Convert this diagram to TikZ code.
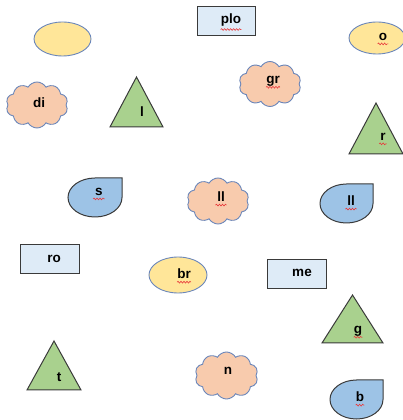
\documentclass[tikz,border=0pt]{standalone}
\usepackage{fontspec}
\setmainfont{Liberation Sans}
\usetikzlibrary{shapes.geometric,shapes.symbols,decorations.pathmorphing}
\definecolor{ellfill}{HTML}{FFE699}
\definecolor{cloudfill}{HTML}{F8CBAD}
\definecolor{trifill}{HTML}{A9D18E}
\definecolor{dropfill}{HTML}{9DC3E6}
\definecolor{rectfill}{HTML}{DEEBF7}
\definecolor{blueedge}{HTML}{6A86BA}
\definecolor{darkedge}{HTML}{3A3A3A}
\definecolor{squig}{HTML}{E8393B}
\tikzset{
  lbl/.style={font=\fontsize{13.5}{14}\selectfont\bfseries, inner sep=0pt, text=black},
  ellbox/.style={ellipse, draw=blueedge, fill=ellfill, line width=0.9pt, inner sep=0pt},
  cloudbox/.style={cloud, cloud puffs=10, cloud puff arc=120, cloud ignores aspect, draw=blueedge, fill=cloudfill, line width=0.9pt, inner sep=0pt},
  rectbox/.style={rectangle, draw=darkedge, fill=rectfill, line width=1pt, inner sep=0pt, minimum height=29pt},
  tribox/.style={draw=darkedge, fill=trifill, line width=1pt, line join=miter},
  dropbox/.style={draw=darkedge, fill=dropfill, line width=1pt},
  wavy/.style={draw=squig, line width=0.6pt, decorate, decoration={snake, segment length=3pt, amplitude=0.9pt}}
}
\newcommand{\mydrop}[4]{% cx cy rx ry
  \draw[dropbox] (#1+#3,#2+#4) -- (#1+#3,#2) arc[start angle=0,end angle=-270,x radius=#3,y radius=#4] -- cycle;}
\begin{document}
\begin{tikzpicture}[x=1pt,y=1pt]
\useasboundingbox (0,0) rectangle (403,420);
% ellipses
\node[ellbox, minimum width=57pt, minimum height=34pt] (e1) at (62.5,381) {};
\node[ellbox, minimum width=56pt, minimum height=32pt] (e2) at (377,382) {};
\node[ellbox, minimum width=58pt, minimum height=36pt] (e3) at (178,145) {};
% rectangles
\node[rectbox, minimum width=58pt] (r1) at (226,398.5) {};
\node[rectbox, minimum width=59pt] (r2) at (49.5,160.5) {};
\node[rectbox, minimum width=59pt] (r3) at (296.5,145.5) {};
% clouds
\node[cloudbox, minimum width=62pt, minimum height=46pt] (c1) at (37,315) {};
\node[cloudbox, minimum width=62pt, minimum height=45pt] (c2) at (270,336) {};
\node[cloudbox, minimum width=62pt, minimum height=46pt] (c3) at (218,219) {};
\node[cloudbox, minimum width=63pt, minimum height=47pt] (c4) at (226.5,44.5) {};
% triangles
\draw[tribox] (110,293) -- (136.5,343) -- (163,293) -- cycle;
\draw[tribox] (349,266) -- (376,317) -- (403,266) -- cycle;
\draw[tribox] (322,77) -- (352.5,125) -- (383,77) -- cycle;
\draw[tribox] (27,30) -- (54,79) -- (81,30) -- cycle;
% drops
\mydrop{95}{222.5}{27}{19.5}
\mydrop{346.5}{216.5}{26.5}{19.5}
\mydrop{356.5}{20.5}{26.5}{19.5}
% labels
\node[lbl] (tplo) at (231,400) {plo};
\node[lbl] (to) at (383,383) {o};
\node[lbl] (tdi) at (39,317) {di};
\node[lbl] (tl) at (142,308) {l};
\node[lbl] (tgr) at (273,339) {gr};
\node[lbl] (tr) at (383,283) {r};
\node[lbl] (ts) at (99,228) {s};
\node[lbl] (tll1) at (221,223) {ll};
\node[lbl] (tll2) at (351,219) {ll};
\node[lbl] (tro) at (54,161) {ro};
\node[lbl] (tbr) at (184,146) {br};
\node[lbl] (tme) at (302,147) {me};
\node[lbl] (tg) at (358,89) {g};
\node[lbl] (tt) at (59,43) {t};
\node[lbl] (tn) at (228,49) {n};
\node[lbl] (tb) at (360,23) {b};
% spell-check squiggles
\draw[wavy] ([yshift=-3pt]tplo.south west) -- ([yshift=-3pt]tplo.south east);
\draw[wavy] ([yshift=-3pt,xshift=-1pt]to.south west) -- ([yshift=-3pt,xshift=1pt]to.south east);
\draw[wavy] ([yshift=-1pt]tgr.south west) -- ([yshift=-1pt]tgr.south east);
\draw[wavy] ([yshift=-3pt,xshift=-1pt]tr.south west) -- ([yshift=-3pt,xshift=1pt]tr.south east);
\draw[wavy] ([yshift=-3pt,xshift=-2pt]ts.south west) -- ([yshift=-3pt,xshift=2pt]ts.south east);
\draw[wavy] ([yshift=-3pt,xshift=-1.5pt]tll1.south west) -- ([yshift=-3pt,xshift=1.5pt]tll1.south east);
\draw[wavy] ([yshift=-3pt,xshift=-1.5pt]tll2.south west) -- ([yshift=-3pt,xshift=1.5pt]tll2.south east);
\draw[wavy] ([yshift=-3pt]tbr.south west) -- ([yshift=-3pt]tbr.south east);
\draw[wavy] ([yshift=-1pt]tg.south west) -- ([yshift=-1pt]tg.south east);
\draw[wavy] ([yshift=-3pt]tb.south west) -- ([yshift=-3pt]tb.south east);
\end{tikzpicture}
\end{document}
